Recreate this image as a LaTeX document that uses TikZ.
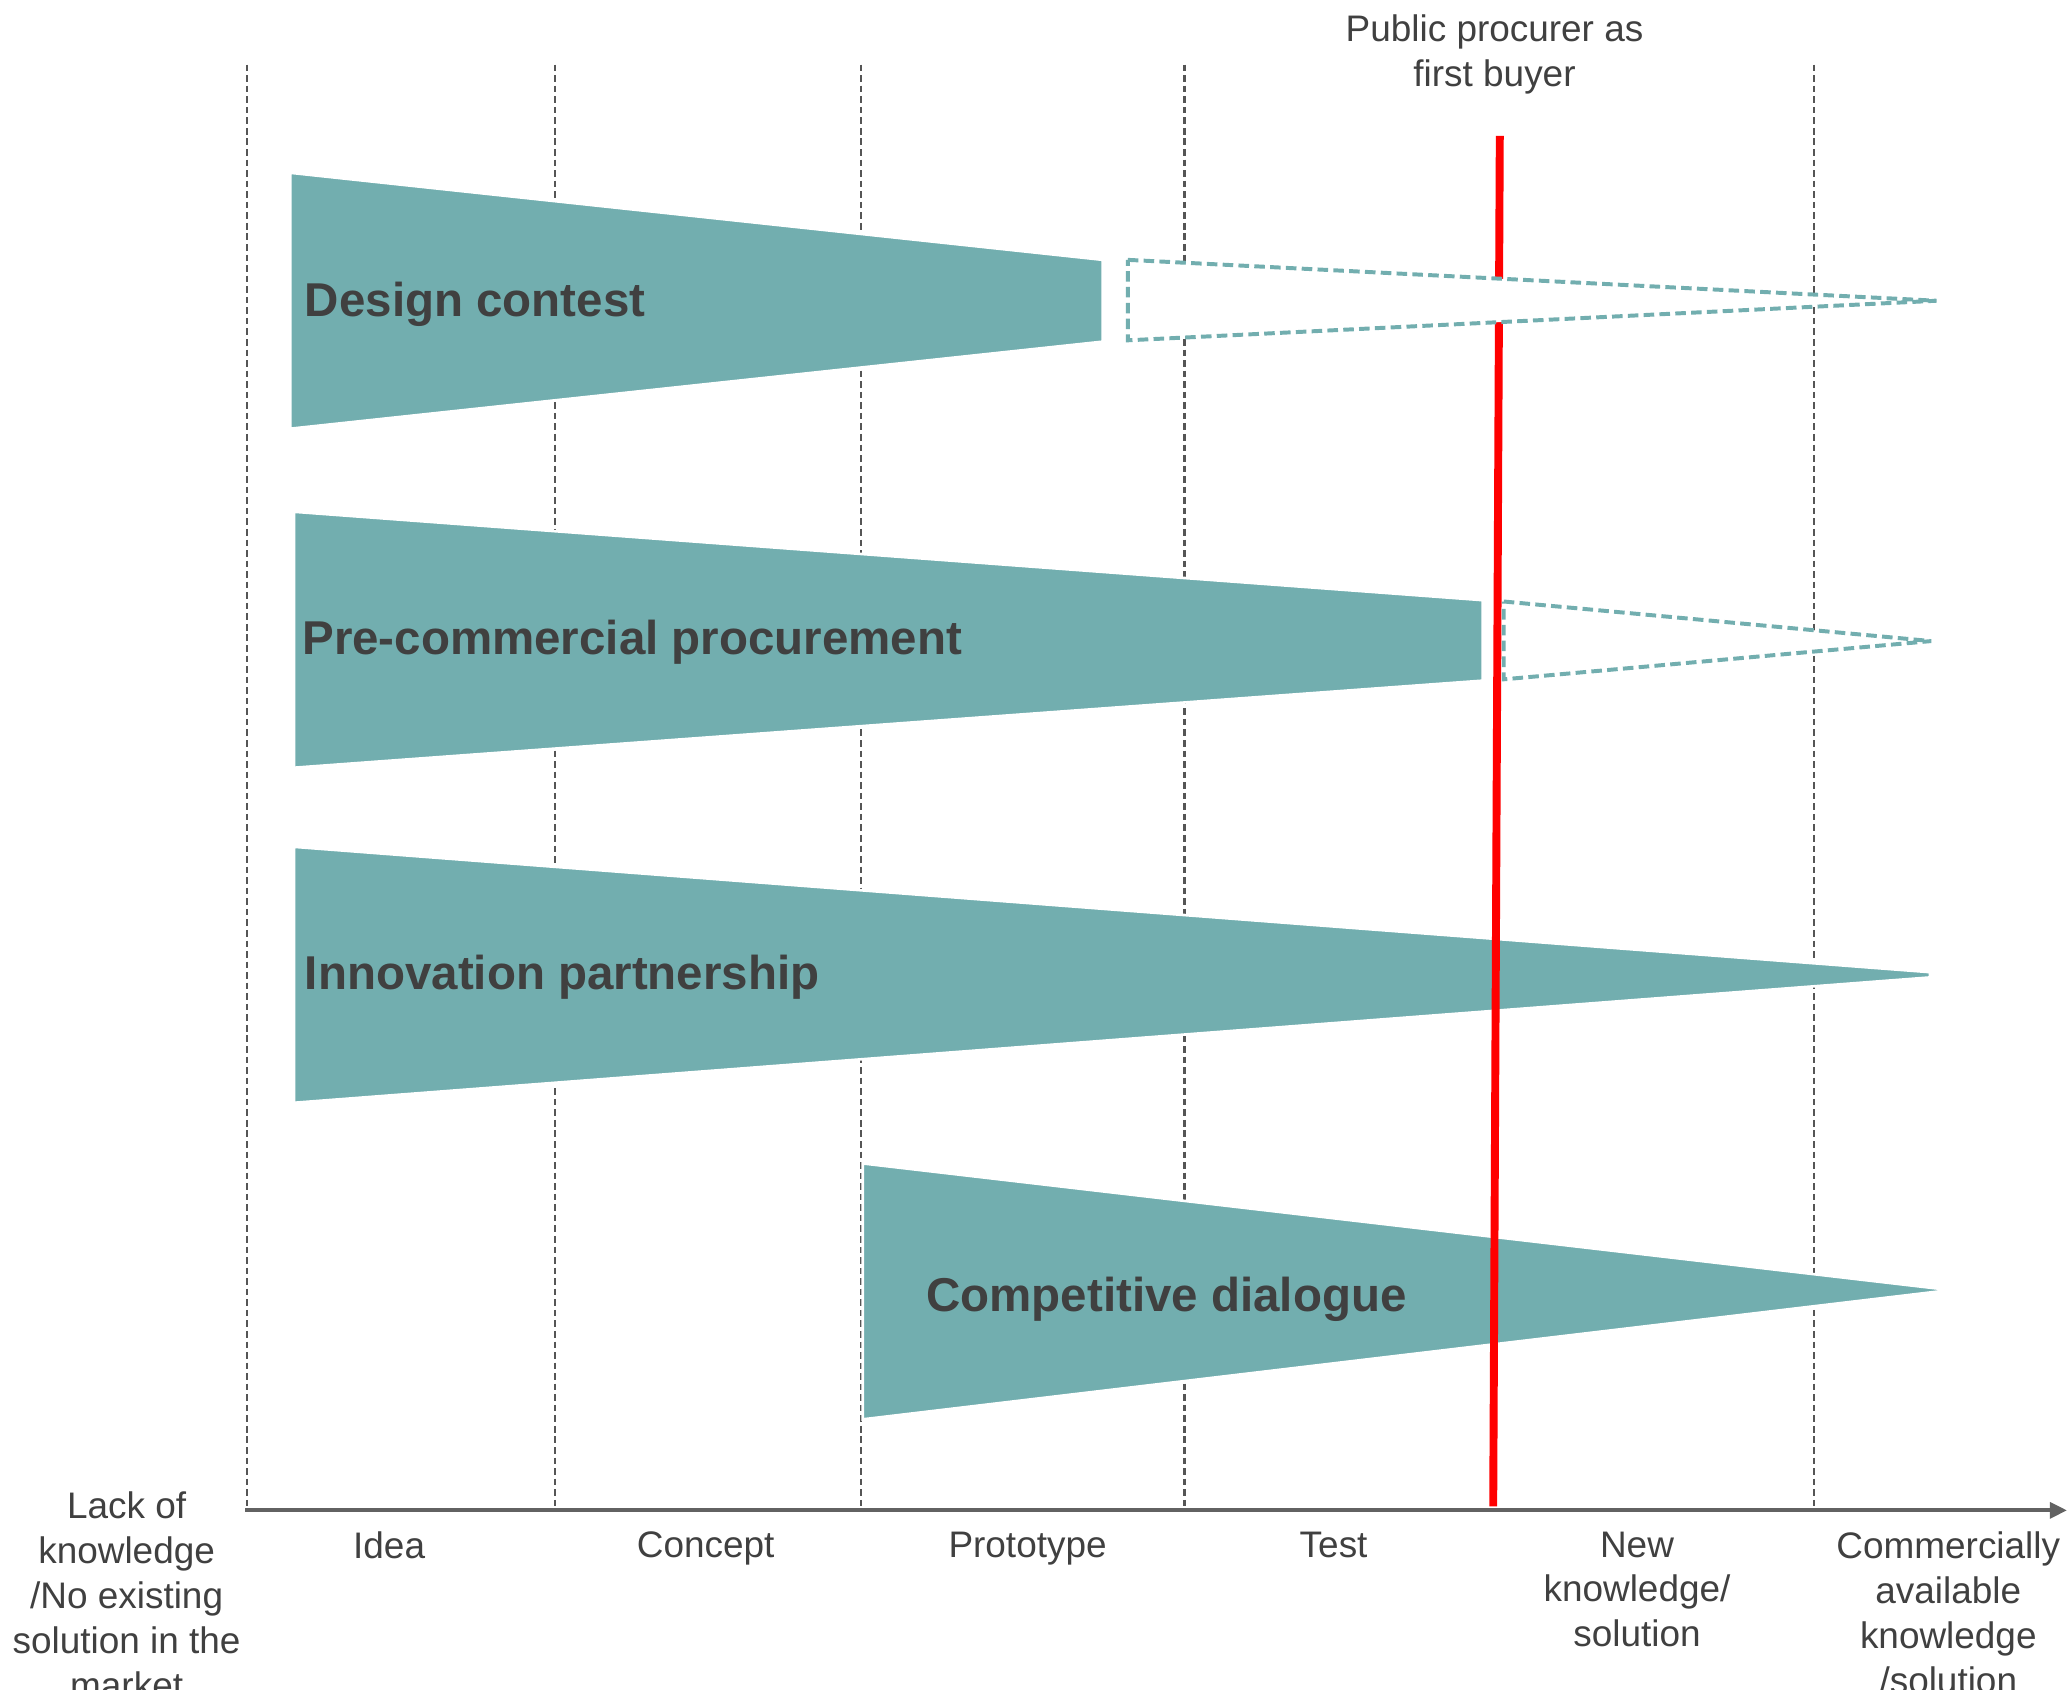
\documentclass[tikz,border=0pt]{standalone}
\usepackage{fontspec}
\setmainfont{Liberation Sans}
\usetikzlibrary{arrows.meta}
\definecolor{teal1}{HTML}{72AEAF}
\definecolor{txt}{HTML}{404040}
\definecolor{gridc}{HTML}{555555}
\definecolor{axisc}{HTML}{626262}
\begin{document}
\begin{tikzpicture}[x=1pt,y=-1pt,
  band/.style={fill=teal1, draw=white, line width=2pt, line join=miter},
  ghost/.style={draw=teal1, fill=white, line width=3pt, dash pattern=on 8pt off 4pt},
  gridline/.style={draw=gridc, line width=1.6pt, dash pattern=on 5pt off 3pt},
  lab/.style={font=\fontsize{28}{34}\selectfont, text=txt, inner sep=0pt, align=center, anchor=north},
  blab/.style={font=\bfseries\fontsize{36}{40}\selectfont, text=txt, inner sep=0pt, anchor=base west}]
\useasboundingbox (0,0) rectangle (1567,1281.1);
% grid lines
\foreach \x [count=\i] in {187,421,653,898,1375}{
  \coordinate (gt\i) at (\x,49);
  \coordinate (gb\i) at (\x,1145);
  \draw[gridline] (gt\i) -- (gb\i);
}
% axis
\coordinate (ax0) at (186,1145);
\coordinate (ax1) at (1567,1145);
\draw[draw=axisc, line width=3pt, -{Triangle[length=13pt,width=12pt]}] (ax0) -- (ax1);
% bands
\draw[band] (220,131) -- (836,197) -- (836,259) -- (220,325) -- cycle;
\draw[band] (223,388) -- (1124,455) -- (1124,516) -- (223,582) -- cycle;
\draw[band] (223,642) -- (1463,737) -- (1463,741) -- (223,836) -- cycle;
\draw[band] (654,882) -- (1470,977) -- (1470,979) -- (654,1076) -- cycle;
% red line
\coordinate (rt) at (1137,103);
\coordinate (rb) at (1132,1142);
\draw[red, line width=6pt] (rt) -- (rb);
% ghost extensions
\draw[ghost] (855,197) -- (1468,228) -- (855,258) -- cycle;
\draw[ghost] (1140,456) -- (1464,486) -- (1140,515) -- cycle;
% band labels
\node[blab] (dc) at (231,240) {Design contest};
\node[blab] (pcp) at (229,496) {Pre-commercial procurement};
\node[blab] (ip) at (231,750) {Innovation partnership};
\node[blab] (cd) at (702,994) {Competitive dialogue};
% top label
\node[lab] (ppb) at (1133,11) {Public procurer as\\first buyer};
% axis labels
\node[lab] (lack) at (96,1131) {Lack of\\knowledge\\/No existing\\solution in the\\market};
\node[lab] (idea) at (295,1161) {Idea};
\node[lab] (concept) at (535,1161) {Concept};
\node[lab] (proto) at (779,1161) {Prototype};
\node[lab] (test) at (1011,1161) {Test};
\node[lab] (newk) at (1241,1161) {New\\knowledge/\\solution};
\node[lab] (comm) at (1477,1161) {Commercially\\available\\knowledge\\/solution};
\end{tikzpicture}
\end{document}
